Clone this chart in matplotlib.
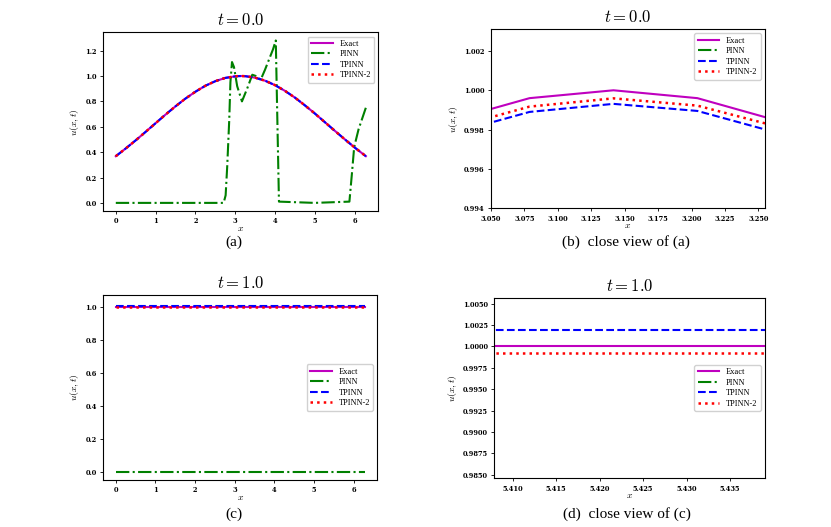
import matplotlib
matplotlib.use("Agg")
import matplotlib.pyplot as plt
from matplotlib.ticker import MultipleLocator, FormatStrFormatter

plt.rcParams['font.family'] = 'serif'
plt.rcParams['font.serif'] = ['Liberation Serif', 'DejaVu Serif']
plt.rcParams['mathtext.fontset'] = 'cm'

# t = 0.0 : exact / TPINN / TPINN-2 sampled along x (dense near the peak for the close view)
x_t0 = [0.00, 0.25, 0.50, 0.75, 1.00, 1.25, 1.50, 1.75, 2.00, 2.25, 2.50, 2.75,
        3.0159, 3.0788, 3.1416, 3.2044, 3.2673,
        3.50, 3.75, 4.00, 4.25, 4.50, 4.75, 5.00, 5.25, 5.50, 5.75, 6.00, 6.2832]
exact_t0 = [0.368, 0.429, 0.493, 0.560, 0.628, 0.696, 0.761, 0.822, 0.876, 0.923, 0.959, 0.985,
            0.99840, 0.99960, 1.00000, 0.99960, 0.99840,
            0.987, 0.963, 0.928, 0.883, 0.830, 0.769, 0.705, 0.637, 0.569, 0.502, 0.437, 0.368]
tpinn_t0 = [0.368, 0.429, 0.493, 0.560, 0.628, 0.696, 0.761, 0.822, 0.876, 0.923, 0.959, 0.985,
            0.99772, 0.99890, 0.99931, 0.99895, 0.99778,
            0.987, 0.963, 0.928, 0.883, 0.830, 0.769, 0.705, 0.637, 0.569, 0.502, 0.437, 0.368]
tpinn2_t0 = [0.368, 0.429, 0.493, 0.560, 0.628, 0.696, 0.761, 0.822, 0.876, 0.923, 0.959, 0.985,
             0.99799, 0.99917, 0.99959, 0.99922, 0.99810,
             0.987, 0.963, 0.928, 0.883, 0.830, 0.769, 0.705, 0.637, 0.569, 0.502, 0.437, 0.368]

# t = 0.0 : PINN
x_pinn_t0 = [0.0, 2.71, 2.76, 2.80, 2.85, 2.88, 2.92, 2.97, 3.05, 3.17, 3.30, 3.43, 3.52, 3.64,
             3.75, 3.85, 3.95, 4.02, 4.10, 5.00, 5.87, 5.93, 5.99, 6.10, 6.2832]
pinn_t0 = [0.0, 0.0, 0.06, 0.29, 0.65, 0.95, 1.11, 1.07, 0.92, 0.80, 0.90, 1.01, 1.00, 0.97,
           1.05, 1.13, 1.21, 1.28, 0.01, 0.0, 0.01, 0.22, 0.44, 0.58, 0.75]

# t = 1.0
x_t1 = [0.0, 6.2832]
exact_t1 = [1.0, 1.0]
pinn_t1 = [0.0, 0.0]
tpinn_t1 = [1.0019, 1.0019]
tpinn2_t1 = [0.9992, 0.9992]

tick_font = 4.8


def draw(ax, xe, ex, xp, pi, tp, tp2, loc):
    ax.plot(xe, ex, color='m', lw=1.5, label='Exact')
    ax.plot(xp, pi, color='g', lw=1.5, ls='-.', label='PINN')
    ax.plot(xe, tp, color='b', lw=1.5, ls='--', label='TPINN')
    ax.plot(xe, tp2, color='r', lw=1.8, ls=':', label='TPINN-2')
    ax.legend(loc=loc, fontsize=6, handlelength=2.6, framealpha=0.9, borderpad=0.4, labelspacing=0.3)
    ax.set_xlabel('$x$', fontsize=7, labelpad=-1)
    ax.set_ylabel('$u(x,t)$', fontsize=7, labelpad=3)
    ax.tick_params(labelsize=tick_font, length=2.5, width=0.6, pad=2)
    for lab in ax.get_xticklabels() + ax.get_yticklabels():
        lab.set_fontweight('bold')
        lab.set_family('DejaVu Serif')


fig = plt.figure(figsize=(8.31, 5.27), dpi=100)
ax_a = fig.add_axes([0.1243, 0.5996, 0.331, 0.339])
ax_b = fig.add_axes([0.5909, 0.6047, 0.3297, 0.3397])
ax_c = fig.add_axes([0.1243, 0.0892, 0.3297, 0.351])
ax_d = fig.add_axes([0.5948, 0.0924, 0.3257, 0.3427])

# (a)
ax_a.xaxis.set_major_locator(MultipleLocator(1))
ax_a.yaxis.set_major_locator(MultipleLocator(0.2))
ax_a.yaxis.set_major_formatter(FormatStrFormatter('%.1f'))
draw(ax_a, x_t0, exact_t0, x_pinn_t0, pinn_t0, tpinn_t0, tpinn2_t0, 'upper right')
ax_a.set_title('$t = 0.0$', fontsize=12, pad=5)

# (b)
ax_b.set_xlim(3.05, 3.255)
ax_b.set_ylim(0.994, 1.0031)
ax_b.xaxis.set_major_locator(MultipleLocator(0.025))
ax_b.xaxis.set_major_formatter(FormatStrFormatter('%.3f'))
ax_b.yaxis.set_major_locator(MultipleLocator(0.002))
ax_b.yaxis.set_major_formatter(FormatStrFormatter('%.3f'))
draw(ax_b, x_t0, exact_t0, x_pinn_t0, pinn_t0, tpinn_t0, tpinn2_t0, 'upper right')
ax_b.set_title('$t = 0.0$', fontsize=12, pad=5)

# (c)
ax_c.set_ylim(-0.05, 1.07)
ax_c.xaxis.set_major_locator(MultipleLocator(1))
ax_c.yaxis.set_major_locator(MultipleLocator(0.2))
ax_c.yaxis.set_major_formatter(FormatStrFormatter('%.1f'))
draw(ax_c, x_t1, exact_t1, x_t1, pinn_t1, tpinn_t1, tpinn2_t1, 'center right')
ax_c.set_title('$t = 1.0$', fontsize=12, pad=5)

# (d)
ax_d.set_xlim(5.4079, 5.4390)
ax_d.set_ylim(0.9846, 1.0057)
ax_d.xaxis.set_major_locator(MultipleLocator(0.005))
ax_d.xaxis.set_major_formatter(FormatStrFormatter('%.3f'))
ax_d.yaxis.set_major_locator(MultipleLocator(0.0025))
ax_d.yaxis.set_major_formatter(FormatStrFormatter('%.4f'))
draw(ax_d, x_t1, exact_t1, x_t1, pinn_t1, tpinn_t1, tpinn2_t1, 'center right')
ax_d.set_title('$t = 1.0$', fontsize=12, pad=5)

# sub-captions
fig.text(0.282, 0.541, '(a)', ha='center', va='center', fontsize=11)
fig.text(0.7533, 0.541, '(b)  close view of (a)', ha='center', va='center', fontsize=11)
fig.text(0.282, 0.024, '(c)', ha='center', va='center', fontsize=11)
fig.text(0.754, 0.024, '(d)  close view of (c)', ha='center', va='center', fontsize=11)

fig.savefig('out.png', dpi=100)
